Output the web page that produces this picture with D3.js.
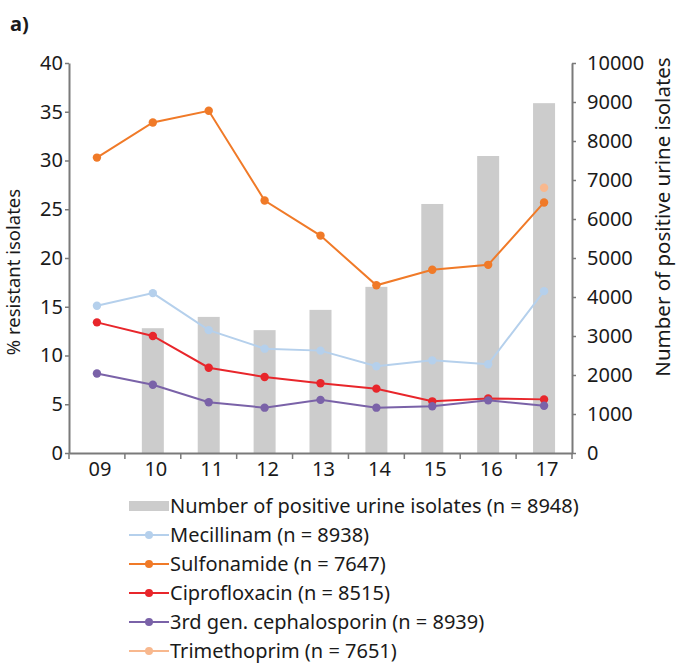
<!DOCTYPE html>
<html><head><meta charset="utf-8">
<script src="https://cdn.jsdelivr.net/npm/d3@7"></script>
<style>body{margin:0;background:#fff;} text{font-family:"Noto Sans", sans-serif;}</style>
</head><body><svg id="c" width="687" height="666"></svg>
<script>
const years = ["09","10","11","12","13","14","15","16","17"];
const isolates = [null,3200,3490,3150,3670,4260,6385,7615,8970];
const mecillinam = [15.1,16.4,12.6,10.7,10.5,8.9,9.5,9.1,16.6];
const sulfonamide = [30.3,33.9,35.1,25.9,22.3,17.2,18.8,19.3,25.7];
const ciprofloxacin = [13.4,12.0,8.75,7.8,7.15,6.6,5.3,5.6,5.5];
const cephalosporin = [8.15,7.0,5.2,4.65,5.45,4.65,4.8,5.4,4.85];
const trimethoprim = [null,null,null,null,null,null,null,null,27.2];
const leftTicks = [0,5,10,15,20,25,30,35,40];
const rightTicks = [0,1000,2000,3000,4000,5000,6000,7000,8000,9000,10000];

const series = [
  {name:"Mecillinam (n = 8938)", values:mecillinam, color:"#b5d0ec"},
  {name:"Sulfonamide (n = 7647)", values:sulfonamide, color:"#f07a28"},
  {name:"Ciprofloxacin (n = 8515)", values:ciprofloxacin, color:"#e8262b"},
  {name:"3rd gen. cephalosporin (n = 8939)", values:cephalosporin, color:"#7a62a8"},
  {name:"Trimethoprim (n = 7651)", values:trimethoprim, color:"#f8b88e"}
];

const FONT = '"Noto Sans", sans-serif';
const FS = 20;
const svg = d3.select("#c");
const L=69, R=572, T=63, B=453;
const x = d3.scaleBand().domain(years).range([L,R]);
const yL = d3.scaleLinear().domain([0,40]).range([B,T]);
const yR = d3.scaleLinear().domain([0,10000]).range([B,T]);
const axisCol="#7a7a7a";

svg.append("text").attr("x",10).attr("y",31).text("a)").attr("font-weight","bold").attr("font-size",20).attr("fill","#1a1a1a");

// bars
svg.append("g").selectAll("rect").data(years.map((y,i)=>({y,v:isolates[i]})).filter(d=>d.v!=null))
 .join("rect").attr("x",d=>x(d.y)+x.bandwidth()/2-11).attr("width",22)
 .attr("y",d=>yR(d.v)).attr("height",d=>B-yR(d.v)).attr("fill","#cccccc");

// axes
function style(g){g.select(".domain").attr("stroke",axisCol).attr("stroke-width",2);
  g.selectAll(".tick line").attr("stroke",axisCol).attr("stroke-width",1.5);
  g.selectAll(".tick text").attr("fill","#1a1a1a").attr("font-size",FS).style("font-family",FONT);}
svg.append("g").attr("transform",`translate(${L},0)`).call(d3.axisLeft(yL).tickValues(leftTicks).tickSize(4).tickSizeOuter(0).tickPadding(2)).call(style);
svg.append("g").attr("transform",`translate(${R},0)`).call(d3.axisRight(yR).tickValues(rightTicks).tickFormat(d3.format("d")).tickSize(4).tickSizeOuter(0).tickPadding(11)).call(style);
const xa = svg.append("g").attr("transform",`translate(0,${B})`).call(d3.axisBottom(x).tickSize(0).tickPadding(5)).call(style);
xa.selectAll(".tick text").attr("dy","0.9em").attr("dx",3);
xa.selectAll(".bt").data(d3.range(years.length+1)).join("line")
 .attr("x1",i=>L+i*x.step()).attr("x2",i=>L+i*x.step()).attr("y1",0).attr("y2",6).attr("stroke",axisCol).attr("stroke-width",1.5);

// lines
const line = d3.line().defined(d=>d.v!=null).x(d=>x(d.y)+x.bandwidth()/2).y(d=>yL(d.v));
series.forEach(s=>{
  const data = years.map((y,i)=>({y,v:s.values[i]}));
  svg.append("path").datum(data).attr("d",line).attr("fill","none").attr("stroke",s.color).attr("stroke-width",2);
  svg.append("g").selectAll("circle").data(data.filter(d=>d.v!=null)).join("circle")
    .attr("cx",d=>x(d.y)+x.bandwidth()/2).attr("cy",d=>yL(d.v)).attr("r",4.2).attr("fill",s.color);
});

// axis titles
svg.append("text").attr("transform",`translate(14,272) rotate(-90)`).attr("text-anchor","middle").attr("dy","0.35em").attr("font-size",18.5).attr("fill","#1a1a1a").text("% resistant isolates");
svg.append("text").attr("transform",`translate(663,217) rotate(-90)`).attr("text-anchor","middle").attr("dy","0.35em").attr("font-size",20.5).attr("fill","#1a1a1a").text("Number of positive urine isolates");

// legend
const lg = svg.append("g");
const ly0=506, ldy=29, lx=129;
lg.append("rect").attr("x",lx).attr("y",ly0-5).attr("width",40).attr("height",10).attr("fill","#cccccc");
lg.append("text").attr("x",lx+41).attr("y",ly0).attr("dy","0.35em").attr("font-size",FS).attr("fill","#1a1a1a").text("Number of positive urine isolates (n = 8948)");
series.forEach((s,i)=>{
  const yy=ly0+(i+1)*ldy;
  lg.append("line").attr("x1",lx).attr("x2",lx+40).attr("y1",yy).attr("y2",yy).attr("stroke",s.color).attr("stroke-width",2);
  lg.append("circle").attr("cx",lx+20).attr("cy",yy).attr("r",4).attr("fill",s.color);
  lg.append("text").attr("x",lx+41).attr("y",yy).attr("dy","0.35em").attr("font-size",FS).attr("fill","#1a1a1a").text(s.name);
});
</script></body></html>
